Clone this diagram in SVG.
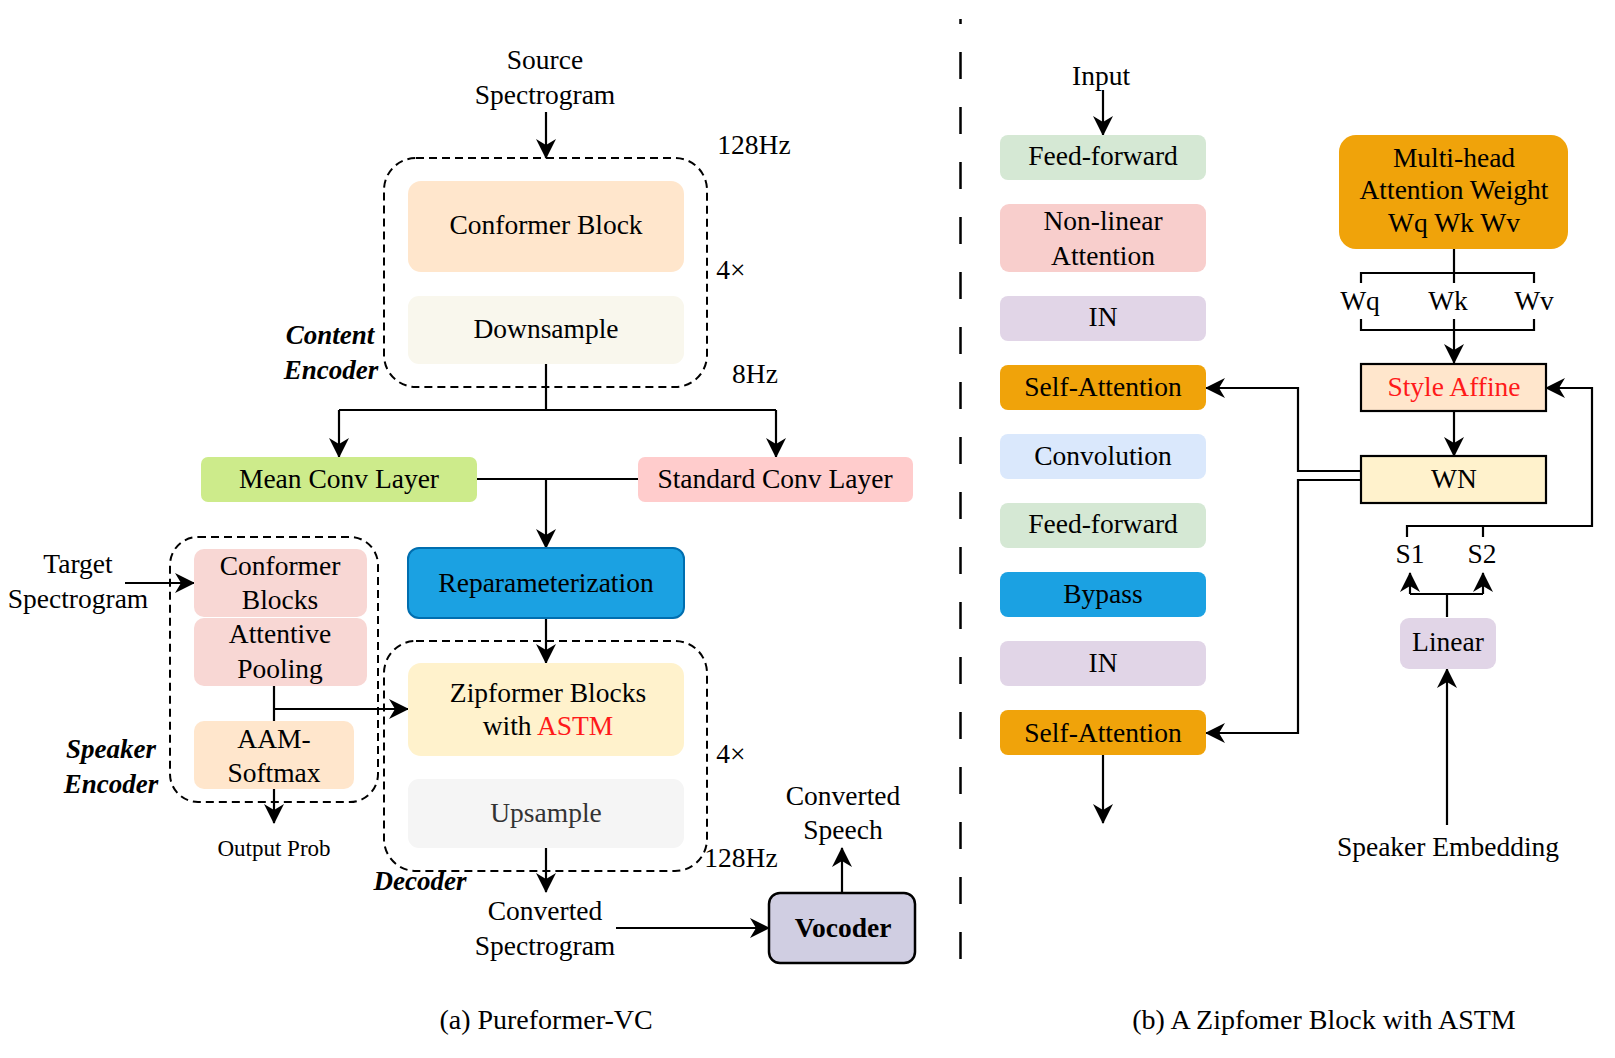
<svg xmlns="http://www.w3.org/2000/svg" width="1615" height="1058" viewBox="0 0 1615 1058">
<defs>
<marker id="arr" viewBox="0 0 20 20" refX="19" refY="10" markerWidth="20" markerHeight="20" orient="auto" markerUnits="userSpaceOnUse"><path d="M0,0 L20,10 L0,20 L6,10 z" fill="#000"/></marker>
</defs>
<style>
text{font-family:"Liberation Serif","Times New Roman",serif;font-size:27.5px;fill:#000;text-anchor:middle}
.bi{font-weight:bold;font-style:italic;font-size:27px}
.b{font-weight:bold}
.sm{font-size:23px}
.cap{font-size:28px}
.red{fill:#FF1A1A}
.ln{fill:none;stroke:#000;stroke-width:2.2}
.ar{fill:none;stroke:#000;stroke-width:2.2;marker-end:url(#arr)}
.dash{fill:none;stroke:#000;stroke-width:2;stroke-dasharray:8 5}
</style>
<rect width="1615" height="1058" fill="#fff"/>

<!-- separator -->
<line x1="960.5" y1="19" x2="960.5" y2="963" stroke="#000" stroke-width="2.5" stroke-dasharray="27 28" stroke-dashoffset="22"/>

<!-- group frames -->
<g id="content-encoder">
<rect class="dash" x="384" y="158" width="323" height="229" rx="32"/>
<text class="bi" x="330" y="344">Content</text>
<text class="bi" x="331" y="379">Encoder</text>
</g>
<g id="speaker-encoder">
<rect class="dash" x="170" y="537" width="208" height="265" rx="28"/>
<text class="bi" x="111" y="758">Speaker</text>
<text class="bi" x="111" y="793">Encoder</text>
</g>
<g id="decoder">
<rect class="dash" x="384" y="641" width="323" height="230" rx="32"/>
<text class="bi" x="420" y="890">Decoder</text>
</g>

<!-- connectors -->
<g id="connectors">
<path class="ar" d="M546,112 V158"/>
<path class="ln" d="M546,364 V410"/>
<path class="ln" d="M339,410 H776"/>
<path class="ar" d="M339,410 V457"/>
<path class="ar" d="M776,410 V457"/>
<path class="ln" d="M477,479 H638"/>
<path class="ar" d="M546,479 V548"/>
<path class="ar" d="M546,618 V663"/>
<path class="ar" d="M546,848 V892"/>
<path class="ar" d="M616,928 H769"/>
<path class="ar" d="M842,893 V848"/>
<path class="ar" d="M125,583 H194"/>
<path class="ln" d="M274,686 V721"/>
<path class="ar" d="M274,709 H408"/>
<path class="ar" d="M274,789 V823"/>

<path class="ar" d="M1103,90 V135"/>
<path class="ln" d="M1454,249 V283"/>
<path class="ln" d="M1361,283 V273 H1534 V283"/>
<path class="ln" d="M1361,319 V330 H1534 V319"/>
<path class="ar" d="M1454,319 V363"/>
<path class="ar" d="M1454,411 V456"/>
<path class="ar" d="M1361,471 H1298 V388 H1206"/>
<path class="ar" d="M1361,480 H1298 V733 H1206"/>
<path class="ar" d="M1407,537 V526 H1592 V388 H1546"/>
<path class="ln" d="M1483,526 V537"/>
<path class="ln" d="M1447,617 V594"/>
<path class="ln" d="M1410,594 H1483"/>
<path class="ar" d="M1410,594 V573"/>
<path class="ar" d="M1483,594 V573"/>
<path class="ar" d="M1447,825 V669"/>
<path class="ar" d="M1103,755 V823"/>
</g>

<!-- left panel nodes -->
<g id="source-label"><text x="545" y="69">Source</text><text x="545" y="104">Spectrogram</text></g>
<g id="conformer-block"><rect x="408" y="181" width="276" height="91" rx="13" fill="#FFE6CC"/><text x="546" y="234">Conformer Block</text></g>
<g id="downsample"><rect x="408" y="296" width="276" height="68" rx="11" fill="#F9F7ED"/><text x="546" y="338">Downsample</text></g>
<g id="rate-labels">
<text x="754" y="154">128Hz</text>
<text x="731" y="279">4×</text>
<text x="755" y="383">8Hz</text>
<text x="731" y="763">4×</text>
<text x="741" y="867">128Hz</text>
</g>
<g id="mean-conv"><rect x="201" y="457" width="276" height="45" rx="7" fill="#CDEB8B"/><text x="339" y="488">Mean Conv Layer</text></g>
<g id="std-conv"><rect x="638" y="457" width="275" height="45" rx="7" fill="#FFCCCC"/><text x="775" y="488">Standard Conv Layer</text></g>
<g id="reparam"><rect x="408" y="548" width="276" height="70" rx="11" fill="#1BA1E2" stroke="#006EAF" stroke-width="2"/><text x="546" y="592">Reparameterization</text></g>
<g id="zipformer"><rect x="408" y="663" width="276" height="93" rx="13" fill="#FFF2CC"/><text x="548" y="702">Zipformer Blocks</text><text x="548" y="735">with <tspan class="red">ASTM</tspan></text></g>
<g id="upsample"><rect x="408" y="779" width="276" height="69" rx="11" fill="#F5F5F5"/><text x="546" y="822" style="fill:#333">Upsample</text></g>
<g id="converted-spec"><text x="545" y="920">Converted</text><text x="545" y="955">Spectrogram</text></g>
<g id="vocoder"><rect x="769" y="893" width="146" height="70" rx="11" fill="#D0CEE2" stroke="#000" stroke-width="2.5"/><text class="b" x="843" y="937">Vocoder</text></g>
<g id="converted-speech"><text x="843" y="805">Converted</text><text x="843" y="839">Speech</text></g>
<g id="target-label"><text x="78" y="573">Target</text><text x="78" y="608">Spectrogram</text></g>
<g id="conformer-blocks"><rect x="194" y="549" width="173" height="68" rx="10" fill="#F8D7D4"/><text x="280" y="575">Conformer</text><text x="280" y="609">Blocks</text></g>
<g id="attentive-pooling"><rect x="194" y="618" width="173" height="68" rx="10" fill="#F8D7D4"/><text x="280" y="643">Attentive</text><text x="280" y="678">Pooling</text></g>
<g id="aam-softmax"><rect x="194" y="721" width="160" height="68" rx="10" fill="#FFE6CC"/><text x="274" y="748">AAM-</text><text x="274" y="782">Softmax</text></g>
<g id="output-prob"><text class="sm" x="274" y="856">Output Prob</text></g>

<!-- right panel nodes -->
<g id="input-label"><text x="1101" y="85">Input</text></g>
<g id="ff1"><rect x="1000" y="135" width="206" height="45" rx="8" fill="#D5E8D4"/><text x="1103" y="165">Feed-forward</text></g>
<g id="nla"><rect x="1000" y="204" width="206" height="68" rx="9" fill="#F8CECC"/><text x="1103" y="230">Non-linear</text><text x="1103" y="265">Attention</text></g>
<g id="in1"><rect x="1000" y="296" width="206" height="45" rx="8" fill="#E1D5E7"/><text x="1103" y="326">IN</text></g>
<g id="sa1"><rect x="1000" y="365" width="206" height="45" rx="8" fill="#F0A30A"/><text x="1103" y="396">Self-Attention</text></g>
<g id="conv"><rect x="1000" y="434" width="206" height="45" rx="8" fill="#DAE8FC"/><text x="1103" y="465">Convolution</text></g>
<g id="ff2"><rect x="1000" y="503" width="206" height="45" rx="8" fill="#D5E8D4"/><text x="1103" y="533">Feed-forward</text></g>
<g id="bypass"><rect x="1000" y="572" width="206" height="45" rx="8" fill="#1BA1E2"/><text x="1103" y="603">Bypass</text></g>
<g id="in2"><rect x="1000" y="641" width="206" height="45" rx="8" fill="#E1D5E7"/><text x="1103" y="672">IN</text></g>
<g id="sa2"><rect x="1000" y="710" width="206" height="45" rx="8" fill="#F0A30A"/><text x="1103" y="742">Self-Attention</text></g>
<g id="mha"><rect x="1339" y="135" width="229" height="114" rx="17" fill="#F0A30A"/><text x="1454" y="167">Multi-head</text><text x="1454" y="199">Attention Weight</text><text x="1454" y="232">Wq Wk Wv</text></g>
<g id="w-labels"><text x="1360" y="310">Wq</text><text x="1448" y="310">Wk</text><text x="1534" y="310">Wv</text></g>
<g id="style-affine"><rect x="1361" y="364" width="185" height="47" fill="#FFE6CC" stroke="#000" stroke-width="2.2"/><text class="red" x="1454" y="396">Style Affine</text></g>
<g id="wn"><rect x="1361" y="456" width="185" height="47" fill="#FFF2CC" stroke="#000" stroke-width="2.2"/><text x="1454" y="488">WN</text></g>
<g id="s-labels"><text x="1410" y="563">S1</text><text x="1482" y="563">S2</text></g>
<g id="linear"><rect x="1400" y="618" width="96" height="51" rx="9" fill="#E1D5E7"/><text x="1448" y="651">Linear</text></g>
<g id="speaker-embedding"><text x="1448" y="856">Speaker Embedding</text></g>

<!-- captions -->
<text class="cap" x="546" y="1029">(a) Pureformer-VC</text>
<text class="cap" x="1324" y="1029">(b) A Zipfomer Block with ASTM</text>
</svg>
